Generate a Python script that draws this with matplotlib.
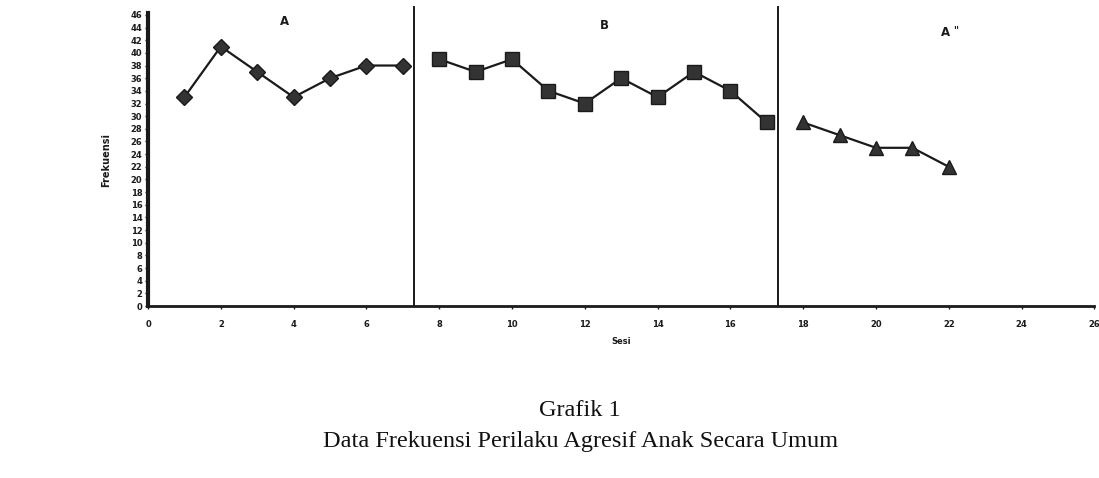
import matplotlib
matplotlib.use("Agg")
import matplotlib.pyplot as plt
import numpy as np

# sessions and frequencies per phase
sesi_a = [1, 2, 3, 4, 5, 6, 7]
frek_a = [33, 41, 37, 33, 36, 38, 38]
sesi_b = [8, 9, 10, 11, 12, 13, 14, 15, 16, 17]
frek_b = [39, 37, 39, 34, 32, 36, 33, 37, 34, 29]
sesi_a2 = [18, 19, 20, 21, 22]
frek_a2 = [29, 27, 25, 25, 22]

phase_lines = [7.3, 17.3]
phase_names = ["A", "B", "A"]
phase_label_pos = [(3.76, 44.9), (12.55, 44.4), (21.9, 43.2)]

x_ticks = list(range(0, 27, 2))
y_ticks = list(range(0, 47, 2))

fig = plt.figure(figsize=(10.99, 4.78), dpi=100)
ax = fig.add_axes([0.1347, 0.3598, 0.8611, 0.613])

ink = "#1a1a1a"
ax.plot(sesi_a, frek_a, color=ink, lw=1.6, marker="D", ms=8.5, mfc="#333333", mec=ink)
ax.plot(sesi_b, frek_b, color=ink, lw=1.6, marker="s", ms=10, mfc="#333333", mec=ink)
ax.plot(sesi_a2, frek_a2, color=ink, lw=1.6, marker="^", ms=9.5, mfc="#333333", mec=ink)

for xl in phase_lines:
    ax.plot([xl, xl], [0, 47.2], color=ink, lw=1.4, clip_on=False)

for name, (px, py) in zip(phase_names, phase_label_pos):
    ax.text(px, py, name, fontsize=8.5, fontweight="bold", ha="center", va="center", color=ink)
# double prime on the last phase label
ax.text(phase_label_pos[2][0] + 0.3, phase_label_pos[2][1] + 0.4, '"', fontsize=7,
        fontweight="bold", ha="center", va="center", color=ink)

ax.set_xlim(0, 26)
ax.set_ylim(0, 46.3)
ax.set_xticks(x_ticks)
ax.set_yticks(y_ticks)
ax.tick_params(axis="both", labelsize=6, length=2, width=1, colors=ink, pad=8)
ax.tick_params(axis="y", pad=2)
for lab in ax.get_xticklabels() + ax.get_yticklabels():
    lab.set_fontweight("bold")

ax.spines["top"].set_visible(False)
ax.spines["right"].set_visible(False)
ax.spines["left"].set_linewidth(3)
ax.spines["bottom"].set_linewidth(2)
ax.spines["left"].set_color(ink)
ax.spines["bottom"].set_color(ink)

ax.set_ylabel("Frekuensi", fontsize=7, fontweight="bold", labelpad=14, color=ink)
ax.set_xlabel("Sesi", fontsize=6, fontweight="bold", labelpad=6, color=ink)

fig.text(0.528, 1 - 410 / 478, "Grafik 1", family="Liberation Serif", fontsize=17.5,
         ha="center", va="center", color="#111111")
fig.text(0.528, 1 - 441 / 478, "Data Frekuensi Perilaku Agresif Anak Secara Umum",
         family="Liberation Serif", fontsize=17.5, ha="center", va="center", color="#111111")

fig.savefig("out.png", dpi=100)
